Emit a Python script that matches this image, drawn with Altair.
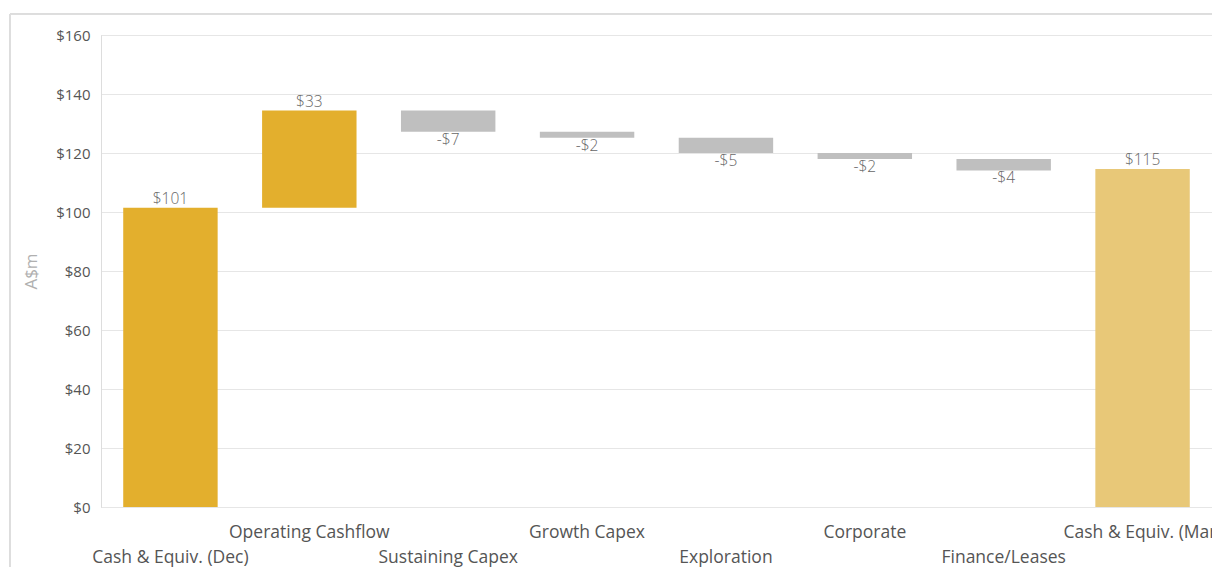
import altair as alt
import pandas as pd

categories = ["Cash & Equiv. (Dec)", "Operating Cashflow", "Sustaining Capex", "Growth Capex",
              "Exploration", "Corporate", "Finance/Leases", "Cash & Equiv. (Mar)"]
values = [101.4, 33.0, -7.2, -2.0, -5.2, -2.0, -3.9, 114.6]
kinds = ["start", "increase", "decrease", "decrease", "decrease", "decrease", "decrease", "end"]
y_ticks = [0, 20, 40, 60, 80, 100, 120, 140, 160]

rows = []
running = 0.0
for c, v, k in zip(categories, values, kinds):
    if k in ("start", "end"):
        s, e = 0.0, v
        running = v
    else:
        s, e = running, running + v
        running = e
    lab = ("-" if v < 0 else "") + "$" + str(int(round(abs(v))))
    rows.append({"cat": c, "start": s, "end": e, "kind": k, "top": max(s, e),
                 "bottom": min(s, e), "label": lab, "neg": v < 0})
df = pd.DataFrame(rows)

W, H = 1111, 472
FONT = "Segoe UI, Open Sans, sans-serif"

odd = [c for i, c in enumerate(categories) if i % 2 == 1]
odd_list = "[" + ",".join("'" + c + "'" for c in odd) + "]"
label_expr = f"indexof({odd_list}, datum.value) >= 0 ? [datum.label, ''] : ['', datum.label]"

x_enc = alt.X("cat:N", sort=categories,
              scale=alt.Scale(paddingInner=0.32, paddingOuter=0.16),
              axis=alt.Axis(title=None, labelAngle=0, labelExpr=label_expr, ticks=False,
                            domain=False, labelPadding=16, labelLineHeight=25,
                            labelFontSize=17.5, labelColor="#555555", labelFont=FONT,
                            labelBaseline="top"))

y_scale = alt.Scale(domain=[0, 160], nice=False)

base = alt.Chart(df)

frame = base.mark_rect(fill=None, stroke="#dddddd", strokeWidth=1).encode(
    x=alt.value(-91), x2=alt.value(W + 40), y=alt.value(-21), y2=alt.value(H + 120)
)

bars = base.mark_bar().encode(
    x=x_enc,
    y=alt.Y("start:Q", scale=y_scale,
            axis=alt.Axis(title="A$m", values=y_ticks, format="$,.0f", ticks=False,
                          domain=True, domainColor="#dddddd", gridColor="#e6e6e6",
                          labelPadding=11, labelFontSize=15, labelColor="#555555",
                          labelFont=FONT, titleFont=FONT, titleFontSize=17,
                          titleFontWeight="normal", titleColor="#b0b0b0", titlePadding=15)),
    y2="end:Q",
    color=alt.Color("kind:N",
                    scale=alt.Scale(domain=["start", "increase", "decrease", "end"],
                                    range=["#E3AF2D", "#E3AF2D", "#BFBFBF", "#E8C878"]),
                    legend=None),
)

pos_labels = base.transform_filter("!datum.neg").mark_text(
    baseline="bottom", dy=-1, fontSize=15.5, font=FONT, fontWeight=300, color="#666666"
).encode(x=alt.X("cat:N", sort=categories), y=alt.Y("top:Q", scale=y_scale), text="label:N")

neg_labels = base.transform_filter("datum.neg").mark_text(
    baseline="top", dy=1, fontSize=15.5, font=FONT, fontWeight=300, color="#666666"
).encode(x=alt.X("cat:N", sort=categories), y=alt.Y("bottom:Q", scale=y_scale), text="label:N")

chart = alt.layer(frame, bars, pos_labels, neg_labels).properties(
    width=W, height=H,
    autosize=alt.AutoSizeParams(type="none"),
    padding={"left": 93, "top": 27, "right": 0, "bottom": 60},
).configure_view(stroke=None).configure(background="white")

chart.save("out.html", embed_options={"renderer": "svg", "actions": False})
